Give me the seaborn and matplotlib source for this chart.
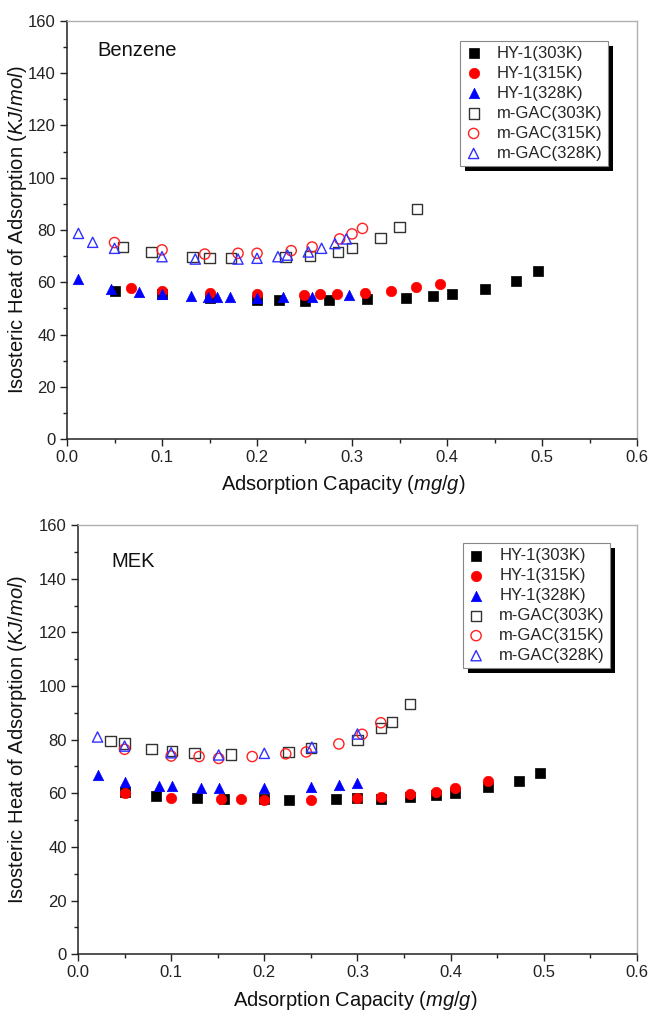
import numpy as np
import matplotlib
matplotlib.use("Agg")
import matplotlib.pyplot as plt
from matplotlib.patches import Rectangle
from matplotlib.ticker import MultipleLocator, FormatStrFormatter
import seaborn as sns

# ---------------- data ----------------
series_labels = ["HY-1(303K)", "HY-1(315K)", "HY-1(328K)",
                 "m-GAC(303K)", "m-GAC(315K)", "m-GAC(328K)"]

# Benzene panel
bz_hy303_x = [0.050, 0.100, 0.150, 0.200, 0.223, 0.250, 0.276, 0.316, 0.357, 0.385, 0.405, 0.440, 0.473, 0.496]
bz_hy303_y = [56.7, 55.4, 53.9, 53.2, 53.2, 53.0, 53.2, 53.5, 54.1, 54.9, 55.5, 57.5, 60.5, 64.5]
bz_hy315_x = [0.067, 0.100, 0.150, 0.200, 0.249, 0.266, 0.284, 0.314, 0.341, 0.367, 0.393]
bz_hy315_y = [57.7, 56.8, 56.0, 55.5, 55.2, 55.4, 55.6, 56.0, 56.8, 58.1, 59.4]
bz_hy328_x = [0.012, 0.046, 0.076, 0.100, 0.130, 0.148, 0.158, 0.172, 0.200, 0.227, 0.258, 0.297]
bz_hy328_y = [61.3, 57.5, 56.2, 55.4, 54.8, 54.5, 54.5, 54.3, 54.1, 54.3, 54.5, 55.2]
bz_gac303_x = [0.059, 0.089, 0.132, 0.150, 0.173, 0.230, 0.256, 0.285, 0.300, 0.330, 0.350, 0.368]
bz_gac303_y = [73.4, 71.7, 69.8, 69.4, 69.4, 69.6, 70.1, 71.7, 73.0, 76.8, 81.0, 88.0]
bz_gac315_x = [0.050, 0.100, 0.145, 0.180, 0.200, 0.236, 0.258, 0.287, 0.300, 0.311]
bz_gac315_y = [75.2, 72.4, 70.8, 71.1, 71.1, 72.1, 73.5, 76.6, 78.5, 80.6]
bz_gac328_x = [0.012, 0.027, 0.050, 0.100, 0.135, 0.180, 0.200, 0.222, 0.232, 0.254, 0.268, 0.282, 0.294]
bz_gac328_y = [78.7, 75.3, 73.0, 69.8, 68.9, 68.9, 69.2, 69.8, 70.4, 71.6, 73.0, 74.8, 76.6]

# MEK panel
mek_hy303_x = [0.050, 0.084, 0.128, 0.157, 0.200, 0.226, 0.277, 0.300, 0.325, 0.356, 0.384, 0.405, 0.440, 0.473, 0.496]
mek_hy303_y = [60.6, 59.1, 58.1, 57.8, 57.8, 57.5, 57.8, 58.1, 57.9, 58.7, 59.4, 60.2, 62.2, 64.7, 67.7]
mek_hy315_x = [0.050, 0.100, 0.153, 0.175, 0.200, 0.250, 0.300, 0.325, 0.356, 0.384, 0.405, 0.440]
mek_hy315_y = [60.0, 58.4, 57.8, 57.8, 57.5, 57.6, 58.1, 58.7, 59.6, 60.6, 61.9, 64.7]
mek_hy328_x = [0.021, 0.050, 0.087, 0.101, 0.132, 0.151, 0.200, 0.250, 0.280, 0.300]
mek_hy328_y = [66.8, 64.3, 62.7, 62.7, 62.1, 61.9, 61.9, 62.5, 63.2, 64.0]
mek_gac303_x = [0.035, 0.050, 0.079, 0.101, 0.125, 0.164, 0.226, 0.250, 0.300, 0.325, 0.337, 0.356]
mek_gac303_y = [79.5, 78.6, 76.4, 75.8, 74.9, 74.5, 75.5, 76.8, 80.0, 84.2, 86.7, 93.2]
mek_gac315_x = [0.050, 0.100, 0.130, 0.151, 0.187, 0.223, 0.245, 0.280, 0.305, 0.325]
mek_gac315_y = [76.4, 73.9, 73.7, 73.0, 73.7, 74.7, 75.4, 78.4, 82.0, 86.3]
mek_gac328_x = [0.021, 0.050, 0.100, 0.151, 0.200, 0.251, 0.300]
mek_gac328_y = [81.0, 77.6, 75.1, 74.3, 74.9, 77.2, 82.1]

panel_names = ["Benzene", "MEK"]
x_ticks = [0.0, 0.1, 0.2, 0.3, 0.4, 0.5, 0.6]
y_ticks = [0, 20, 40, 60, 80, 100, 120, 140, 160]

# ---------------- style ----------------
sns.set_theme(style="ticks")
plt.rcParams["font.family"] = ["Liberation Sans", "DejaVu Sans"]
plt.rcParams["mathtext.fontset"] = "custom"
plt.rcParams["mathtext.rm"] = "Liberation Sans"
plt.rcParams["mathtext.it"] = "Liberation Sans:italic"

styles = [
    dict(marker="s", color="black", filled=True),
    dict(marker="o", color="#ff0000", filled=True),
    dict(marker="^", color="#0000ff", filled=True),
    dict(marker="s", color="#333333", filled=False),
    dict(marker="o", color="#ff2020", filled=False),
    dict(marker="^", color="#3030ff", filled=False),
]

fig = plt.figure(figsize=(6.52, 10.11), dpi=100)
ax_top = fig.add_axes([0.1028, 0.5655, 0.977 - 0.1028, 0.9795 - 0.5655])
ax_bot = fig.add_axes([0.1196, 0.0561, 0.977 - 0.1196, 0.4807 - 0.0561])

panels = [
    (ax_top, [(bz_hy303_x, bz_hy303_y), (bz_hy315_x, bz_hy315_y), (bz_hy328_x, bz_hy328_y),
              (bz_gac303_x, bz_gac303_y), (bz_gac315_x, bz_gac315_y), (bz_gac328_x, bz_gac328_y)]),
    (ax_bot, [(mek_hy303_x, mek_hy303_y), (mek_hy315_x, mek_hy315_y), (mek_hy328_x, mek_hy328_y),
              (mek_gac303_x, mek_gac303_y), (mek_gac315_x, mek_gac315_y), (mek_gac328_x, mek_gac328_y)]),
]

name_pos = [(0.0526, 0.930), (0.0603, 0.9145)]
xlabel_pos = [(0.484, -0.080), (0.496, -0.082)]
ylabel_pos = [(-0.067, 0.5), (-0.088, 0.5)]
legend_anchor = [(0.9486, 0.952), (0.952, 0.958)]

legends = []
for i, (ax, data) in enumerate(panels):
    for (xs, ys), st, lbl in zip(data, styles, series_labels):
        if st["filled"]:
            sns.scatterplot(x=xs, y=ys, marker=st["marker"], s=56, color=st["color"],
                            edgecolor=st["color"], linewidth=0.5, label=lbl,
                            legend=False, ax=ax, zorder=3)
        else:
            sns.scatterplot(x=xs, y=ys, marker=st["marker"], s=54, facecolor="none",
                            edgecolor=st["color"], linewidth=1.0, label=lbl,
                            legend=False, ax=ax, zorder=3)
    ax.set_xlim(0, 0.6)
    ax.set_ylim(0, 160)
    ax.set_xticks(x_ticks)
    ax.set_yticks(y_ticks)
    ax.xaxis.set_major_formatter(FormatStrFormatter("%.1f"))
    ax.xaxis.set_minor_locator(MultipleLocator(0.05))
    ax.yaxis.set_minor_locator(MultipleLocator(10))
    ax.tick_params(axis="both", which="major", direction="out", length=5, width=1.0,
                   labelsize=12, colors="#222222", pad=3)
    ax.tick_params(axis="both", which="minor", direction="out", length=3, width=1.0,
                   colors="#222222")
    ax.tick_params(top=False, right=False, which="both")
    for side in ["left", "bottom"]:
        ax.spines[side].set_color("#222222")
        ax.spines[side].set_linewidth(1.1)
    for side in ["top", "right"]:
        ax.spines[side].set_visible(True)
        ax.spines[side].set_color("#b0b0b0")
        ax.spines[side].set_linewidth(1.0)

    ax.set_xlabel(r"Adsorption Capacity ($\mathit{mg/g}$)", fontsize=14.5, color="#111111")
    ax.set_ylabel(r"Isosteric Heat of Adsorption $\mathit{(KJ/mol)}$", fontsize=14.5, color="#111111")
    ax.xaxis.set_label_coords(*xlabel_pos[i])
    ax.yaxis.set_label_coords(*ylabel_pos[i])

    ax.text(name_pos[i][0], name_pos[i][1], panel_names[i], transform=ax.transAxes,
            fontsize=14.5, ha="left", va="center", color="#111111")

    leg = ax.legend(loc="upper right", bbox_to_anchor=legend_anchor[i], borderaxespad=0,
                    frameon=True, fancybox=False, framealpha=1, edgecolor="#888888",
                    fontsize=12, labelspacing=0.3, handlelength=1.0, handletextpad=0.9,
                    borderpad=0.3)
    leg.get_frame().set_linewidth(0.8)
    leg.set_zorder(6)
    legends.append((ax, leg))

# drop shadow behind legends
fig.canvas.draw()
renderer = fig.canvas.get_renderer()
inv = fig.transFigure.inverted()
for ax, leg in legends:
    bb = leg.get_frame().get_window_extent(renderer)
    off = 5.0
    (x0, y0) = inv.transform((bb.x0 + off, bb.y0 - off))
    (x1, y1) = inv.transform((bb.x1 + off, bb.y1 - off))
    ax.add_patch(Rectangle((x0, y0), x1 - x0, y1 - y0, transform=fig.transFigure,
                           facecolor="black", edgecolor="none", zorder=5.5, clip_on=False))

fig.savefig("out.png", dpi=100)
